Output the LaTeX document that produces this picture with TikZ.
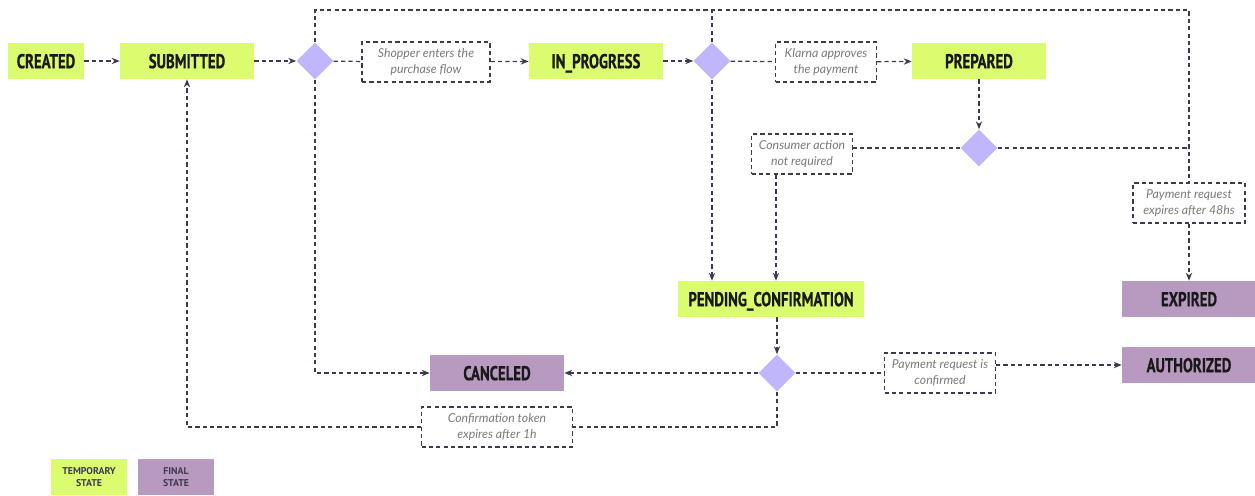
\documentclass[tikz,border=0pt]{standalone}
\usepackage{fontspec}
\usepackage{xcolor}
\usepackage{tikz}
\usetikzlibrary{shapes.geometric,arrows.meta}
\newfontfamily\statefont{PT Sans}[FakeStretch=0.74,FakeBold=0.6]
\newfontfamily\legendfont{PT Sans}
\newfontfamily\notefont{Lato}
\definecolor{ctemp}{HTML}{DAFC6E}
\definecolor{cfinal}{HTML}{B89AC0}
\definecolor{cchoice}{HTML}{C0B6FC}
\definecolor{cline}{HTML}{3D3A4F}
\definecolor{cnote}{HTML}{7A7A7A}

\tikzset{
  flow/.style={cline,line width=0.7pt,dash pattern=on 2.4pt off 1.8pt},
  state/.style={fill=ctemp,minimum width=2.68cm,minimum height=0.72cm,inner sep=0pt,
    text height=1.9ex,text depth=0pt,
    font=\statefont\bfseries\fontsize{11.4}{12}\selectfont,text=black!90},
  finalstate/.style={state,fill=cfinal},
  choice/.style={diamond,fill=cchoice,minimum width=0.74cm,minimum height=0.74cm,inner sep=0pt},
  note/.style={draw=cline,line width=0.7pt,dash pattern=on 2.4pt off 1.8pt,minimum height=0.8cm,
    inner sep=1pt,align=center,text=cnote,font=\notefont\itshape\fontsize{7}{9}\selectfont},
  legend/.style={minimum width=1.52cm,minimum height=0.72cm,inner sep=0pt,align=center,
    font=\legendfont\bfseries\fontsize{5.6}{6.8}\selectfont,text=cline}
}

\begin{document}
\begin{tikzpicture}[x=0.02cm,y=-0.02cm,>={Stealth[length=4.5pt,width=3.6pt]}]
  \useasboundingbox (0,0) rectangle (1255,495);

  \node[state,minimum width=1.52cm] (created) at (46,61) {CREATED};
  \node[state] (submitted) at (187,61) {SUBMITTED};
  \node[choice] (d1) at (315,61) {};
  \node[note,minimum width=2.56cm] (n1) at (426,62) {Shopper enters the\\purchase flow};
  \node[state] (inprogress) at (596,61) {IN\_PROGRESS};
  \node[choice] (d2) at (712,61) {};
  \node[note,minimum width=2.02cm] (n2) at (826,62) {Klarna approves\\the payment};
  \node[state] (prepared) at (979,61) {PREPARED};
  \node[choice] (d3) at (979,148) {};
  \node[note,minimum width=2.02cm] (n3) at (802,154) {Consumer action\\not required};
  \node[note,minimum width=2.24cm] (n4) at (1189,203) {Payment request\\expires after 48hs};
  \node[state,minimum width=3.74cm] (pending) at (771,299) {PENDING\_CONFIRMATION};
  \node[finalstate] (expired) at (1189,299) {EXPIRED};
  \node[choice] (d4) at (777,373) {};
  \node[finalstate] (canceled) at (497,373) {CANCELED};
  \node[note,minimum width=2.22cm] (n5) at (940,373) {Payment request is\\confirmed};
  \node[finalstate] (authorized) at (1189,365) {AUTHORIZED};
  \node[note,minimum width=3.02cm] (n6) at (497,427) {Confirmation token\\expires after 1h};
  \coordinate (loop) at (1189,10);

  \node[legend,fill=ctemp] (ltemp) at (89,477) {TEMPORARY\\STATE};
  \node[legend,fill=cfinal] (lfinal) at (176,477) {FINAL\\STATE};

  \draw[flow,->] (created) -- (submitted);
  \draw[flow,->] (submitted) -- (d1);
  \draw[flow] (d1) -- (n1);
  \draw[flow,->] (n1) -- (inprogress);
  \draw[flow,->] (inprogress) -- (d2);
  \draw[flow] (d2) -- (n2);
  \draw[flow,->] (n2) -- (prepared);
  \draw[flow,->] (prepared) -- (d3);
  \draw[flow] (d1.north) |- (loop) -- (n4.north);
  \draw[flow] (d2.north) -- (d2.north |- loop);
  \draw[flow] (d3.east) -- (d3.east -| loop);
  \draw[flow] (d3.west) -- (d3.west -| n3.east);
  \draw[flow,->] (n3.south -| 776,0) -- (776,0 |- pending.north);
  \draw[flow,->] (d2.south) -- (d2.south |- pending.north);
  \draw[flow,->] (n4) -- (expired);
  \draw[flow,->] (pending.south -| d4) -- (d4);
  \draw[flow,->] (d4) -- (canceled);
  \draw[flow,->] (d1.south) |- (canceled.west);
  \draw[flow] (d4) -- (n5);
  \draw[flow,->] (n5.east |- authorized.west) -- (authorized.west);
  \draw[flow] (d4.south) |- (n6.east);
  \draw[flow,->] (n6.west) -| (submitted.south);
\end{tikzpicture}
\end{document}
